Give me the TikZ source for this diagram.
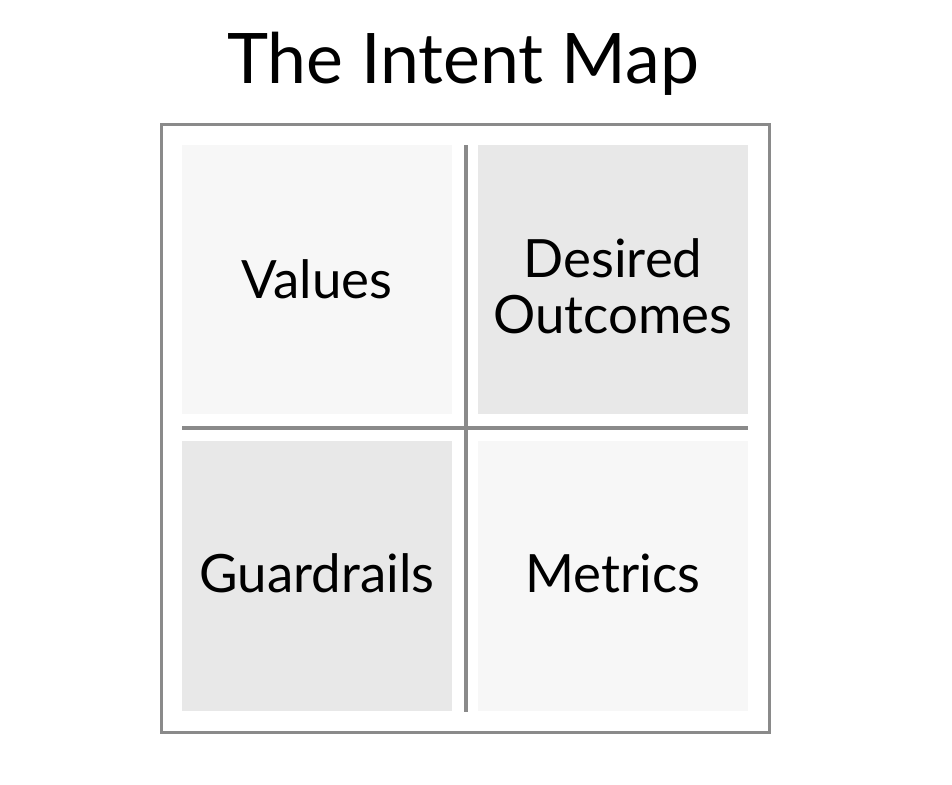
\documentclass[tikz,border=0pt]{standalone}
\usepackage{fontspec}
\setmainfont{Lato}
\begin{document}
\begin{tikzpicture}[x=1bp,y=-1bp,
  light/.style={fill=black!3, draw=none},
  dark/.style={fill=black!9, draw=none},
  rule/.style={draw=black!46, line width=3.2bp},
  lab/.style={font=\fontsize{53}{56}\selectfont, align=center, text=black}]
\useasboundingbox (0,0) rectangle (952,785);
\fill[white] (0,0) rectangle (952,785);
\node[font=\fontsize{70}{76}\selectfont] (title) at (463,64) {The Intent Map};
\draw[rule, line width=2.6bp] (161.5,124.5) rectangle (769.5,732.5);
\path[light] (182,145) rectangle (452,414);
\path[dark] (478,145) rectangle (748,414);
\path[dark] (182,441) rectangle (452,711);
\path[light] (478,441) rectangle (748,711);
\coordinate (vt) at (466,145);
\coordinate (vb) at (466,712);
\coordinate (hl) at (182,428);
\coordinate (hr) at (748,428);
\draw[rule] (vt) -- (vb);
\draw[rule] (hl) -- (hr);
\node[lab] (values) at (317,279) {Values};
\node[lab] (desired) at (613,286) {Desired\\Outcomes};
\node[lab] (guard) at (317,573) {Guardrails};
\node[lab] (metrics) at (613,573) {Metrics};
\end{tikzpicture}
\end{document}
